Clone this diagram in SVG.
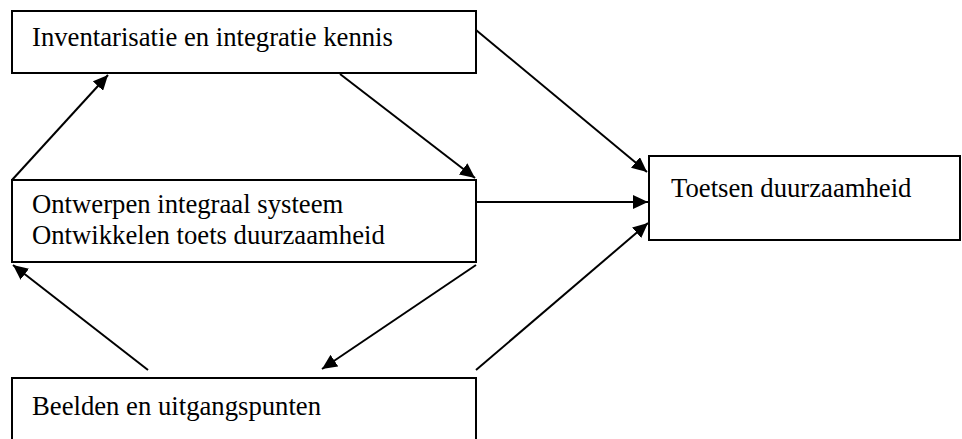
<svg xmlns="http://www.w3.org/2000/svg" width="962" height="439" viewBox="0 0 962 439">
<style>
.box{fill:#fff;stroke:#000;stroke-width:2}
.t{font-family:"Liberation Serif","Times New Roman",serif;font-size:26.7px;fill:#000}
.c{stroke:#000;stroke-width:2;fill:none;marker-end:url(#ah)}
</style>
<defs>
<marker id="ah" markerUnits="userSpaceOnUse" markerWidth="16" markerHeight="14" refX="15" refY="7" orient="auto">
<path d="M0,0 L15,7 L0,14 Z" fill="#000"/>
</marker>
</defs>
<rect width="962" height="439" fill="#fff"/>
<g id="connectors">
<line class="c" x1="476" y1="30" x2="647" y2="172"/>
<line class="c" x1="477" y1="202" x2="648" y2="202"/>
<line class="c" x1="476" y1="370" x2="648" y2="223"/>
<line class="c" x1="340" y1="74" x2="475" y2="178"/>
<line class="c" x1="476" y1="265" x2="322" y2="369"/>
<line class="c" x1="12" y1="180" x2="108" y2="75"/>
<line class="c" x1="148" y1="370" x2="13" y2="265"/>
</g>
<g id="n1">
<rect class="box" x="12" y="11" width="464" height="62"/>
<text class="t" x="32" y="46">Inventarisatie en integratie kennis</text>
</g>
<g id="n2">
<rect class="box" x="12" y="180" width="464" height="82"/>
<text class="t" x="32" y="213">Ontwerpen integraal systeem</text>
<text class="t" x="32" y="244">Ontwikkelen toets duurzaamheid</text>
</g>
<g id="n3">
<rect class="box" x="12" y="378" width="464" height="70"/>
<text class="t" x="32" y="415">Beelden en uitgangspunten</text>
</g>
<g id="n4">
<rect class="box" x="649" y="156" width="311" height="84"/>
<text class="t" x="671" y="197">Toetsen duurzaamheid</text>
</g>
</svg>
